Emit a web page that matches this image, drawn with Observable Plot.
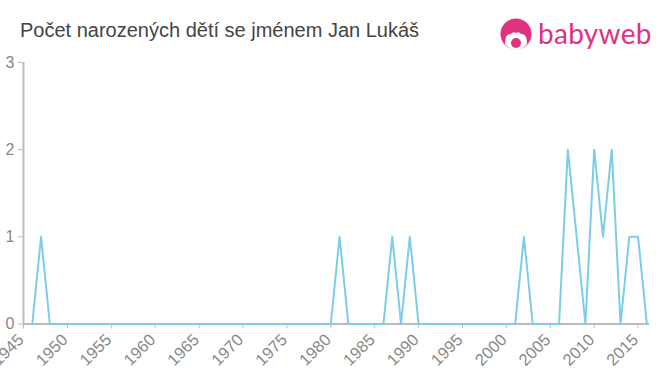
<!DOCTYPE html>
<html>
<head>
<meta charset="utf-8">
<script src="https://cdn.jsdelivr.net/npm/d3@7"></script>
<script src="https://cdn.jsdelivr.net/npm/@observablehq/plot@0.6"></script>
<style>
  html, body { margin: 0; padding: 0; background: #fff; }
  #wrap { position: relative; width: 660px; height: 375px; overflow: hidden; font-family: "Liberation Sans", Arial, sans-serif; }
  #title { position: absolute; left: 20px; top: 19px; font-size: 20px; color: #444; white-space: nowrap; }
  #logo { position: absolute; left: 500px; top: 16px; height: 36px; display: flex; align-items: center; }
  #logo span { font-family: "Lato", "Open Sans", sans-serif; font-size: 28px; color: #e0327f; margin-left: 6px; letter-spacing: 0.3px; line-height: 1; margin-top: -3px; }
</style>
</head>
<body>
<div id="wrap">
  <div id="chart"></div>
  <div id="title">Počet narozených dětí se jménem Jan Lukáš</div>
  <div id="logo">
    <svg width="32" height="32" viewBox="0 0 32 32">
      <circle cx="16" cy="16" r="15.5" fill="#e0327f"/>
      <path d="M5 26 Q5 15 11 16 Q13 13 16 15 Q19 13 21 16 Q27 15 27 26 Q22 32 16 32 Q10 32 5 26 Z" fill="#fff"/>
      <circle cx="16" cy="25" r="5" fill="#e0327f"/>
    </svg>
    <span>babyweb</span>
  </div>
</div>
<script>
const years = [1946, 1947, 1948, 1980, 1981, 1982, 1986, 1987, 1988, 1989, 1990, 2001, 2002, 2003, 2006, 2007, 2008, 2009, 2010, 2011, 2012, 2013, 2014, 2015, 2016];
const counts = [0, 1, 0, 0, 1, 0, 0, 1, 0, 1, 0, 0, 1, 0, 0, 2, 1, 0, 2, 1, 2, 0, 1, 1, 0];
const xTicks = [1945, 1950, 1955, 1960, 1965, 1970, 1975, 1980, 1985, 1990, 1995, 2000, 2005, 2010, 2015];
const yTicks = [0, 1, 2, 3];

const data = years.map((y, i) => ({year: y, count: counts[i]}));

const chart = Plot.plot({
  width: 660,
  height: 375,
  marginLeft: 23,
  marginRight: 11,
  marginTop: 62,
  marginBottom: 51.5,
  style: {fontFamily: "'Liberation Sans', Arial, sans-serif", color: "#888", background: "transparent", overflow: "visible"},
  x: {domain: [1945, 2016.3], label: null},
  y: {domain: [0, 3], label: null},
  marks: [
    Plot.axisX({ticks: xTicks, tickFormat: null, text: null, tickSize: 5, stroke: "#bbb", label: null}),
    Plot.text(xTicks, {x: d => d, y: () => 0, text: d => String(d), rotate: -45, textAnchor: "end", lineAnchor: "middle", dx: -2.5, dy: 13, fontSize: 16.5, fill: "#888"}),
    Plot.axisY({ticks: yTicks, tickFormat: d3.format("d"), tickSize: 5, tickPadding: 4, stroke: "#bbb", fill: "#888", fontSize: 16, label: null}),
    Plot.ruleX([1945], {stroke: "#bbb", strokeWidth: 2}),
    Plot.ruleY([0], {stroke: "#bbb", strokeWidth: 2}),
    Plot.line(data, {x: "year", y: "count", stroke: "#7dcdea", strokeWidth: 2})
  ]
});
document.getElementById("chart").appendChild(chart);
</script>
</body>
</html>
